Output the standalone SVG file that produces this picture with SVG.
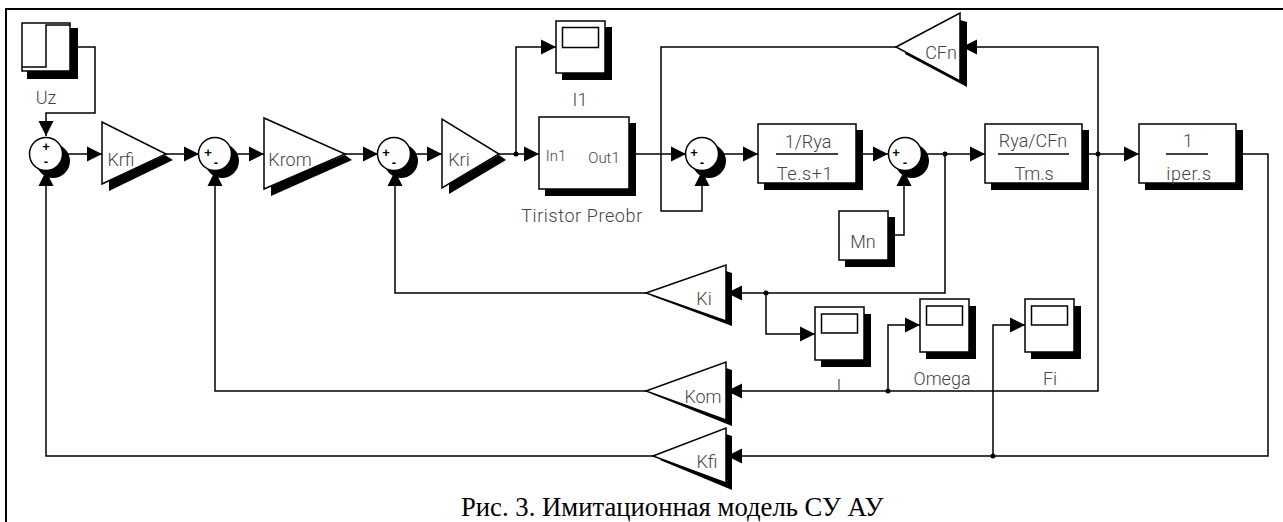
<svg xmlns="http://www.w3.org/2000/svg" width="1283" height="522" viewBox="0 0 1283 522">
<style>
.w{fill:none;stroke:#000;stroke-width:1.5}
.b{fill:#fff;stroke:#000;stroke-width:1.5}
.s{fill:#000;stroke:none}
.l{font-family:Roboto,"Open Sans",sans-serif;font-size:18px;font-weight:300;fill:#444;text-anchor:middle}
.m{font-size:15px}
.x{letter-spacing:.6px}
.c{font-family:"Liberation Sans",sans-serif;font-weight:700;font-size:13px;fill:#000;text-anchor:middle}
</style>
<defs>
<marker id="a" markerUnits="userSpaceOnUse" markerWidth="16" markerHeight="16" refX="15" refY="8" orient="auto"><path d="M0 0.5L15 8L0 15.5z"/></marker>
</defs>
<rect width="1283" height="522" fill="#fff"/>
<path d="M6 522V9H1283" fill="none" stroke="#000" stroke-width="2"/>
<g id="connectors">
<path class="w" marker-end="url(#a)" d="M77 47H95V113H46V136"/>
<path class="w" marker-end="url(#a)" d="M66 154H102"/>
<path class="w" marker-end="url(#a)" d="M166 154H199"/>
<path class="w" marker-end="url(#a)" d="M235 154H264"/>
<path class="w" marker-end="url(#a)" d="M345 154H378"/>
<path class="w" marker-end="url(#a)" d="M414 154H442"/>
<path class="w" marker-end="url(#a)" d="M499 154H539"/>
<path class="w" marker-end="url(#a)" d="M516 154V47H556"/>
<path class="w" marker-end="url(#a)" d="M636 154H686"/>
<path class="w" marker-end="url(#a)" d="M661 154V211H702V171"/>
<path class="w" d="M661 154V47H896"/>
<path class="w" marker-end="url(#a)" d="M722 154H758"/>
<path class="w" marker-end="url(#a)" d="M856 154H888"/>
<path class="w" marker-end="url(#a)" d="M895 235H904V171"/>
<path class="w" marker-end="url(#a)" d="M925 154H985"/>
<path class="w" marker-end="url(#a)" d="M945 154V293H727"/>
<path class="w" marker-end="url(#a)" d="M1089 154H1139"/>
<path class="w" marker-end="url(#a)" d="M1098 154V47H962"/>
<path class="w" marker-end="url(#a)" d="M1098 154V391H727"/>
<path class="w" marker-end="url(#a)" d="M1243 154H1268V456H727"/>
<path class="w" marker-end="url(#a)" d="M766 293V334H815"/>
<path class="w" marker-end="url(#a)" d="M888 391V325H920"/>
<path class="w" marker-end="url(#a)" d="M993 456V325H1025"/>
<path class="w" marker-end="url(#a)" d="M646 293H395V171"/>
<path class="w" marker-end="url(#a)" d="M646 391H215V171"/>
<path class="w" marker-end="url(#a)" d="M653 456H46V171"/>
<circle cx="516" cy="154" r="2.500"/><circle cx="945" cy="154" r="2.500"/><circle cx="1098" cy="154" r="2.500"/><circle cx="766" cy="293" r="2.500"/><circle cx="888" cy="391" r="2.500"/><circle cx="993" cy="456" r="2.500"/>
</g>
<g id="uz"><rect class="s" x="27" y="28" width="51" height="51"/><rect class="b" x="22" y="23" width="48" height="48"/><path class="w" d="M22 67H46V25H70"/><text class="l" x="46" y="104">Uz</text></g>
<g id="sum1"><circle class="s" cx="53" cy="161" r="17"/><circle class="b" cx="46" cy="154" r="16.500"/><text class="c" x="46" y="151">+</text><text class="c" x="46" y="166">-</text></g>
<g id="krfi"><path class="s" d="M109 191L173 160L165 155L109 181z"/><path class="b" d="M102 122V184L166 154z"/><text class="l" x="121" y="166">Krfi</text></g>
<g id="sum2"><circle class="s" cx="222" cy="161" r="17"/><circle class="b" cx="215" cy="154" r="16.500"/><text class="c" x="208" y="157">+</text><text class="c" x="216" y="167">-</text></g>
<g id="krom"><path class="s" d="M271 196L352 160L345 155L271 185z"/><path class="b" d="M264 118V189L345 154z"/><text class="l" x="290" y="166">Krom</text></g>
<g id="sum3"><circle class="s" cx="401" cy="161" r="17"/><circle class="b" cx="394" cy="154" r="16.500"/><text class="c" x="386" y="157">+</text><text class="c" x="394" y="167">-</text></g>
<g id="kri"><path class="s" d="M449 194L506 160L499 155L449 183z"/><path class="b" d="M442 119V188L499 154z"/><text class="l" x="459" y="166">Kri</text></g>
<g id="i1"><rect class="s" x="562" y="27" width="50" height="53"/><rect class="b" x="556" y="21" width="49" height="52"/><rect class="b" x="562.500" y="27.500" width="36" height="20"/><text class="l" x="580" y="106">I1</text></g>
<g id="tiristor"><rect class="s" x="545" y="123" width="91" height="73"/><rect class="b" x="539" y="117" width="90" height="72"/><text class="l m" x="556" y="161">In1</text><text class="l m" x="604" y="163">Out1</text><text class="l x" x="582" y="222">Tiristor Preobr</text></g>
<g id="sum4"><circle class="s" cx="709" cy="161" r="17"/><circle class="b" cx="702" cy="154" r="16.500"/><text class="c" x="694" y="157">+</text><text class="c" x="702" y="167">-</text></g>
<g id="rya"><rect class="s" x="764" y="130" width="99" height="60"/><rect class="b" x="758" y="124" width="98" height="59"/><path class="w" d="M776 154H838"/><text class="l" x="808" y="148">1/Rya</text><text class="l x" x="805" y="180">Te.s+1</text></g>
<g id="sum5"><circle class="s" cx="912" cy="161" r="17"/><circle class="b" cx="905" cy="154" r="16.500"/><text class="c" x="896" y="157">+</text><text class="c" x="905" y="167">-</text></g>
<g id="mn"><rect class="s" x="845" y="217" width="50" height="50"/><rect class="b" x="839" y="211" width="49" height="49"/><text class="l" x="863" y="248">Mn</text></g>
<g id="rc"><rect class="s" x="991" y="130" width="98" height="60"/><rect class="b" x="985" y="124" width="97" height="59"/><path class="w" d="M998 154H1069"/><text class="l" x="1033" y="147">Rya/CFn</text><text class="l" x="1034" y="180">Tm.s</text></g>
<g id="iper"><rect class="s" x="1145" y="130" width="98" height="60"/><rect class="b" x="1139" y="124" width="97" height="59"/><path class="w" d="M1166 154H1208"/><text class="l" x="1188" y="147">1</text><text class="l x" x="1189" y="180">iper.s</text></g>
<g id="cfn"><path class="s" d="M960 20L967 22V87L905 54L906 50L960 76z"/><path class="b" d="M896 47L960 13V81z"/><text class="l" x="941" y="59">CFn</text></g>
<g id="ki"><path class="s" d="M726 271L732 273V326L652 296L654 294L726 318z"/><path class="b" d="M646 293L726 265V321z"/><text class="l" x="704" y="305">Ki</text></g>
<g id="kom"><path class="s" d="M726 368L732 370V426L652 394L654 392L726 417z"/><path class="b" d="M646 391L726 362V420z"/><text class="l" x="703" y="403">Kom</text></g>
<g id="kfi"><path class="s" d="M726 434L732 436V490L660 460L662 458L726 480z"/><path class="b" d="M653 456L726 428V483z"/><text class="l" x="707" y="468">Kfi</text></g>
<g id="i"><rect class="s" x="821" y="314" width="50" height="53"/><rect class="b" x="815" y="307" width="49" height="53"/><rect class="b" x="821.500" y="314" width="36" height="19"/><text class="l" x="839" y="392">I</text></g>
<g id="omega"><rect class="s" x="926" y="306" width="50" height="53"/><rect class="b" x="920" y="299" width="49" height="53"/><rect class="b" x="926.500" y="306" width="36" height="19"/><text class="l" x="942" y="385">Omega</text></g>
<g id="fi"><rect class="s" x="1031" y="306" width="50" height="53"/><rect class="b" x="1025" y="299" width="49" height="53"/><rect class="b" x="1031.500" y="306" width="36" height="19"/><text class="l" x="1050" y="385">Fi</text></g>
<text id="caption" x="461" y="516" font-family="Liberation Serif,serif" font-size="26.700" fill="#000">Рис. 3. Имитационная модель СУ АУ</text>
</svg>
